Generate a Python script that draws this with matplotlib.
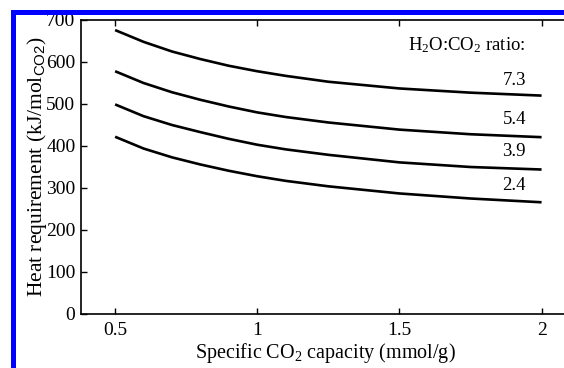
import matplotlib
matplotlib.use("Agg")
import matplotlib.pyplot as plt
from matplotlib.patches import Rectangle

plt.rcParams['font.family'] = ['Liberation Serif', 'DejaVu Serif']
plt.rcParams['mathtext.fontset'] = 'custom'
plt.rcParams['mathtext.rm'] = 'Liberation Serif'
plt.rcParams['mathtext.it'] = 'Liberation Serif:italic'
plt.rcParams['mathtext.sf'] = 'Liberation Sans'

capacity = [0.5, 0.6, 0.7, 0.8, 0.9, 1.0, 1.1, 1.25, 1.5, 1.75, 2.0]
ratio_labels = ["7.3", "5.4", "3.9", "2.4"]
heat_73 = [676, 648, 625, 607, 591, 578, 567, 553, 537, 527, 520]
heat_54 = [578, 550, 528, 510, 494, 480, 469, 456, 439, 428, 421]
heat_39 = [499, 471, 450, 433, 417, 403, 392, 379, 361, 350, 344]
heat_24 = [422, 394, 373, 356, 341, 328, 317, 304, 287, 275, 266]
series = [heat_73, heat_54, heat_39, heat_24]
label_y = [557, 464, 386, 305]

W, H = 564, 368
fig = plt.figure(figsize=(W / 100, H / 100), dpi=100)

# blue frame
fig.patches.append(Rectangle((11 / W, 0), 5 / W, 1 - 10 / H, transform=fig.transFigure,
                             facecolor='#0000ff', edgecolor='none'))
fig.patches.append(Rectangle((11 / W, 1 - 15 / H), 1, 5 / H, transform=fig.transFigure,
                             facecolor='#0000ff', edgecolor='none'))

ax = fig.add_axes([81 / W, 1 - 314 / H, (570 - 81) / W, (314 - 20) / H])
for s in series:
    ax.plot(capacity, s, color='black', lw=1.9, solid_capstyle='butt')

ax.set_xlim(0.38, 2.10)
ax.set_ylim(0, 700)
ax.set_xticks([0.5, 1, 1.5, 2])
ax.set_xticklabels(['0.5', '1', '1.5', '2'])
ax.set_yticks(range(0, 701, 100))
ax.tick_params(direction='in', top=True, right=True, length=4, width=1, labelsize=14)
ax.tick_params(axis='x', pad=6)
ax.tick_params(axis='y', pad=4)
for sp in ax.spines.values():
    sp.set_linewidth(1.2)

for lab, y in zip(ratio_labels, label_y):
    ax.text(1.945, y, lab, ha='right', va='center', fontsize=13.5)
ax.text(1.945, 640, r'H$_2$O:CO$_2$ ratio:', ha='right', va='center', fontsize=13.5)

ax.set_xlabel(r'Specific CO$_2$ capacity (mmol/g)', fontsize=14.5, labelpad=1)
ax.set_ylabel(r'Heat requirement (kJ/mol$_{\mathsf{CO2}}$)', fontsize=15.5, labelpad=-2)

fig.savefig('out.png', dpi=100)
